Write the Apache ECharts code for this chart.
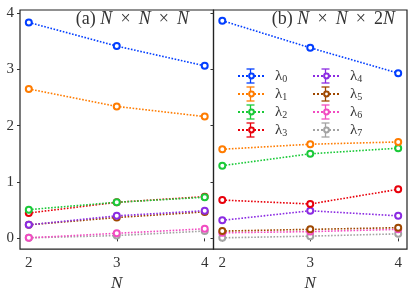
<!DOCTYPE html>
<html><head><meta charset="utf-8">
<script src="https://cdn.jsdelivr.net/npm/echarts@6/dist/echarts.min.js"></script>
<style>html,body{margin:0;padding:0;background:#fff}#c{width:416px;height:297px}</style>
</head><body><div id="c"></div>
<script>
const N = [2, 3, 4];
const names = ['λ0','λ1','λ2','λ3','λ4','λ5','λ6','λ7'];
const colors = ['#023eff','#ff7c00','#1ac938','#e8000b','#8b2be2','#9f4800','#f14cc1','#a3a3a3'];
const yTicks = [0, 1, 2, 3, 4];
const xTicks = [2, 3, 4];
// panel (a) N x N x N
const aL0 = [3.83, 3.41, 3.06];
const aL1 = [2.65, 2.34, 2.16];
const aL2 = [0.51, 0.64, 0.73];
const aL3 = [0.45, 0.64, 0.74];
const aL4 = [0.24, 0.40, 0.49];
const aL5 = [0.24, 0.37, 0.47];
const aL6 = [0.01, 0.09, 0.17];
const aL7 = [0.01, 0.05, 0.13];
// panel (b) N x N x 2N
const bL0 = [3.86, 3.38, 2.93];
const bL1 = [1.58, 1.67, 1.71];
const bL2 = [1.29, 1.50, 1.60];
const bL3 = [0.68, 0.61, 0.87];
const bL4 = [0.32, 0.49, 0.40];
const bL5 = [0.13, 0.16, 0.19];
const bL6 = [0.10, 0.12, 0.16];
const bL7 = [0.01, 0.04, 0.08];
const panelA = [aL0,aL1,aL2,aL3,aL4,aL5,aL6,aL7];
const panelB = [bL0,bL1,bL2,bL3,bL4,bL5,bL6,bL7];

const serif = 'Liberation Serif';
const chart = echarts.init(document.getElementById('c'));

function xAxis(gi) {
  return {
    type: 'value', gridIndex: gi, min: 1.9, max: 4.1,
    name: 'N', nameLocation: 'middle', nameGap: 18,
    nameTextStyle: { fontFamily: serif, fontStyle: 'italic', fontSize: 17, color: '#333' },
    axisLine: { show: false },
    splitLine: { show: false },
    axisTick: { show: true, inside: false, length: 3, customValues: xTicks, lineStyle: { color: '#333' } },
    axisLabel: { customValues: xTicks, fontFamily: serif, fontSize: 15, color: '#333', margin: 6 }
  };
}
function yAxis(gi, labels) {
  return {
    type: 'value', gridIndex: gi, min: -0.19, max: 4.05,
    axisLine: { show: false },
    splitLine: { show: false },
    axisTick: { show: true, inside: false, length: 3, customValues: yTicks, lineStyle: { color: '#333' } },
    axisLabel: { show: labels, customValues: yTicks, fontFamily: serif, fontSize: 15, color: '#333', margin: 6 }
  };
}

const series = [];
[panelA, panelB].forEach((panel, gi) => {
  panel.forEach((vals, i) => {
    series.push({
      type: 'line', name: names[i], xAxisIndex: gi, yAxisIndex: gi,
      data: vals.map((v, k) => [N[k], v]),
      symbol: 'emptyCircle', symbolSize: 6,
      color: colors[i],
      lineStyle: { type: 'dotted', width: 1.6, color: colors[i] },
      itemStyle: { color: colors[i], borderWidth: 1.3 },
      z: 10 - i,
      animation: false
    });
  });
});

const rowH = 18;
const legendBase = {
  orient: 'vertical', itemWidth: 27, itemHeight: 6, itemGap: 0, padding: 0,
  itemStyle: { borderWidth: 1.3 },
  textStyle: {
    color: '#333', fontFamily: serif, lineHeight: rowH,
    rich: { l: { fontFamily: serif, fontSize: 15, color: '#333', lineHeight: rowH, padding: [0, 0, 0, 5] }, s: { fontFamily: serif, fontSize: 10, color: '#333', lineHeight: rowH, padding: [7, 0, 0, 0] } }
  },
  formatter: n => '{l|λ}{s|' + n.slice(1) + '}',
  selectedMode: false
};
const legTop = 67, col1 = 237, col2 = 312;
const legends = [
  Object.assign({}, legendBase, { left: col1, top: legTop, data: names.slice(0, 4) }),
  Object.assign({}, legendBase, { left: col2, top: legTop, data: names.slice(4, 8) })
];

// error-bar decoration on legend keys
const graphics = [];
names.forEach((n, i) => {
  const colX = (i < 4 ? col1 : col2) + 13.5;
  const cy = legTop + (i % 4) * rowH + rowH / 2;
  const st = { stroke: colors[i], lineWidth: 1.3 };
  graphics.push({ type: 'line', shape: { x1: colX, y1: cy - 7, x2: colX, y2: cy + 7 }, style: st, z: 1 });
  graphics.push({ type: 'line', shape: { x1: colX - 4, y1: cy - 7, x2: colX + 4, y2: cy - 7 }, style: st, z: 1 });
  graphics.push({ type: 'line', shape: { x1: colX - 4, y1: cy + 7, x2: colX + 4, y2: cy + 7 }, style: st, z: 1 });
});
// panel titles
const titleRich = {
  r: { fontFamily: serif, fontSize: 18, fill: '#333' },
  i: { fontFamily: serif, fontStyle: 'italic', fontSize: 18, fill: '#333' }
};
const sp = '\u00a0';
const tx = sp + '\u2009×\u2009' + sp;
graphics.push({ type: 'text', right: 416 - 189, top: 10, style: {
  text: '{r|(a)' + sp + '}{i|N}{r|' + tx + '}{i|N}{r|' + tx + '}{i|N}', rich: titleRich }, z: 20 });
graphics.push({ type: 'text', right: 416 - 395, top: 10, style: {
  text: '{r|(b)' + sp + '}{i|N}{r|' + tx + '}{i|N}{r|' + tx + '2}{i|N}', rich: titleRich }, z: 20 });

chart.setOption({
  animation: false,
  backgroundColor: '#fff',
  grid: [
    { left: 20, right: 202.5, top: 10, bottom: 47, show: true, borderColor: '#222', borderWidth: 1.2, backgroundColor: 'transparent' },
    { left: 213.5, right: 9, top: 10, bottom: 47, show: true, borderColor: '#222', borderWidth: 1.2, backgroundColor: 'transparent' }
  ],
  xAxis: [xAxis(0), xAxis(1)],
  yAxis: [yAxis(0, true), yAxis(1, false)],
  legend: legends,
  graphic: graphics,
  series: series
});
</script></body></html>
